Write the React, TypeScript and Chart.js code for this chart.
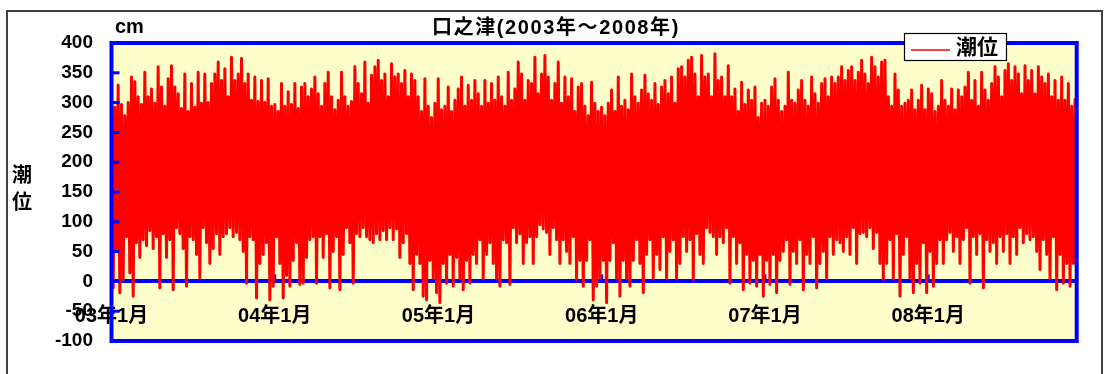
import { useEffect, useRef } from "react";
import { Chart, registerables } from "chart.js";

Chart.register(...registerables);

const chartTitle = "口之津(2003年～2008年)";
const seriesLabel = "潮位";
const yUnit = "cm";
const yTitleChars = ["潮", "位"];
const yearTickDays = [0, 365, 731, 1096, 1461, 1826];
const yearTickLabels = ["03年1月", "04年1月", "05年1月", "06年1月", "07年1月", "08年1月"];
const periodDays = 2158;
const yMin = -100;
const yMax = 400;
const yStep = 50;

// Envelope of tidal highs (cm), read left to right across the record
const highs = [
  326, 292, 329, 297, 278, 300, 343, 335, 310, 297, 351, 310, 323, 299, 360, 326, 294, 340, 362, 326,
  315, 290, 348, 285, 332, 292, 351, 299, 348, 300, 332, 348, 368, 337, 357, 310, 376, 337, 348, 374,
  332, 348, 304, 343, 302, 337, 300, 340, 294, 297, 285, 332, 294, 318, 297, 332, 290, 326,
  332, 310, 323, 343, 315, 294, 332, 351, 310, 288, 304, 351, 310, 294, 302, 360, 332, 315, 368, 299,
  346, 360, 371, 337, 348, 310, 365, 343, 348, 332, 354, 310, 348, 337, 310, 285, 340, 294, 275, 299,
  340, 288, 294, 326, 285, 304, 323, 343, 294, 329, 304, 337, 315, 294, 337, 299, 332, 304,
  343, 310, 294, 351, 304, 323, 368, 348, 304, 337, 332, 376, 315, 348, 379, 343, 304, 332, 368, 299,
  343, 310, 340, 285, 326, 332, 294, 278, 334, 299, 285, 292, 278, 299, 321, 285, 343, 294, 304, 288,
  348, 310, 299, 321, 346, 315, 304, 332, 297, 326, 337, 315, 343, 299, 357, 360, 343, 371,
  376, 348, 310, 379, 343, 348, 310, 382, 337, 343, 310, 362, 310, 323, 285, 334, 297, 321, 304, 326,
  275, 299, 304, 294, 326, 340, 304, 285, 294, 351, 304, 299, 321, 337, 304, 294, 343, 315, 299, 332,
  340, 310, 343, 332, 343, 360, 337, 354, 360, 337, 351, 371, 348, 332, 376, 360, 343, 368,
  371, 310, 294, 348, 321, 294, 299, 304, 321, 288, 304, 329, 288, 323, 315, 285, 294, 337, 304, 294,
  323, 288, 321, 310, 326, 351, 304, 337, 294, 351, 321, 304, 332, 360, 343, 310, 354, 365, 337, 360,
  348, 315, 362, 337, 354, 315, 360, 343, 332, 348, 310, 337, 304, 343, 304, 332, 294, 305,
];

// Envelope of tidal lows (cm), same sampling as highs
const lows = [
  -11, 50, -19, 3, 75, 14, -25, 65, 40, 70, 60, 85, 55, 75, -11, 80, 40, 70, -14, 90,
  80, 55, -8, 75, 70, 45, 6, 90, 65, 30, 55, 80, 45, 75, 80, 90, 75, 82, 70, 50,
  -3, 75, 70, -28, 30, 45, 65, -31, -8, 75, 30, -28, 10, -8, 35, 65, -5, -3,
  40, 70, 75, -3, 75, 40, 80, -11, 50, 75, -14, 45, 90, 65, -3, 80, 75, 90, 75, 70,
  65, 80, 70, 85, 70, 90, 70, 88, 40, 65, 80, 30, -14, 45, 30, -25, -31, 35, 5, -19,
  -36, 30, -3, 45, -8, 40, 5, -14, 35, -3, 45, 30, 70, 5, 45, 65, 30, 5,
  -8, 70, 65, -5, 90, 65, 80, 30, 65, 75, 30, 75, 95, 88, 82, 45, 90, 70, 30, 70,
  50, 30, 75, 3, 35, -8, 35, 70, -31, -8, 5, 35, -36, 35, 65, 5, -25, 35, 5, -8,
  35, 70, 30, -19, 45, 70, 5, 45, 20, 75, 5, 50, 70, 5, 30, 75, 50, 70,
  3, 80, 45, 30, 90, 82, 75, 45, 75, 65, 90, -3, 75, 30, 65, -14, 45, -3, 35, -8,
  45, -25, 35, -5, 45, -19, 35, 50, 70, -5, 50, 30, 70, -14, 45, 30, 75, -11, 30, 50,
  5, 75, 45, 70, 65, 50, 75, 45, 90, 30, 80, 82, 75, 90, 55, 82, 30, 3,
  30, 70, 5, 80, -25, 45, 75, 5, -19, 30, -3, 65, -19, 50, -8, 30, 70, 30, 70, 82,
  50, 75, 30, 70, 90, -3, 75, 45, 80, -11, 70, 50, 65, 30, 75, 50, 80, 30, 75, 45,
  90, 65, 80, 70, 75, 50, 20, 70, 45, 5, 75, -14, 45, -3, 30, -8, 30, -19,
];

const FONT = '"Liberation Sans", "Noto Sans CJK JP", sans-serif';

function buildPoints() {
  const n = Math.min(highs.length, lows.length);
  const step = periodDays / (n - 0.5);
  const pts: { x: number; y: number }[] = [];
  for (let i = 0; i < n; i++) {
    pts.push({ x: i * step, y: highs[i] });
    pts.push({ x: (i + 0.5) * step, y: lows[i] });
  }
  return pts;
}

const decorPlugin = {
  id: "decor",
  beforeDraw(chart: any) {
    const { ctx, chartArea: a } = chart;
    ctx.save();
    ctx.strokeStyle = "#404040";
    ctx.lineWidth = 2;
    ctx.strokeRect(7, 11, 1095, 420);
    ctx.fillStyle = "#FFFFCC";
    ctx.fillRect(a.left, a.top, a.right - a.left, a.bottom - a.top);
    ctx.restore();
  },
  beforeDatasetsDraw(chart: any) {
    const { ctx } = chart;
    const xs = chart.scales.x;
    const ys = chart.scales.y;
    const zeroY = ys.getPixelForValue(0);
    ctx.save();
    ctx.strokeStyle = "#0000FF";
    ctx.lineWidth = 3;
    yearTickDays.forEach((d) => {
      const px = xs.getPixelForValue(d);
      ctx.beginPath();
      ctx.moveTo(px, zeroY);
      ctx.lineTo(px, zeroY - 7);
      ctx.stroke();
    });
    ctx.restore();
  },
  afterDatasetsDraw(chart: any) {
    const { ctx, chartArea: a } = chart;
    const ys = chart.scales.y;
    ctx.save();
    ctx.strokeStyle = "#0000FF";
    ctx.lineWidth = 3;
    for (let v = yMin + yStep; v < yMax; v += yStep) {
      const py = ys.getPixelForValue(v);
      ctx.beginPath();
      ctx.moveTo(a.left, py);
      ctx.lineTo(a.left + 8, py);
      ctx.stroke();
    }
    ctx.lineWidth = 4;
    ctx.strokeRect(a.left, a.top, a.right - a.left, a.bottom - a.top);
    ctx.restore();
  },
  afterDraw(chart: any) {
    const { ctx } = chart;
    ctx.save();
    ctx.fillStyle = "#000";
    // title
    ctx.font = `bold 20px ${FONT}`;
    ctx.textAlign = "center";
    ctx.textBaseline = "middle";
    try {
      (ctx as any).letterSpacing = "1.6px";
    } catch (e) {}
    ctx.fillText(chartTitle, 556, 28);
    try {
      (ctx as any).letterSpacing = "0px";
    } catch (e) {}
    // unit
    ctx.textAlign = "left";
    ctx.textBaseline = "alphabetic";
    ctx.fillText(yUnit, 115, 33);
    // vertical axis title
    ctx.textAlign = "center";
    ctx.textBaseline = "middle";
    yTitleChars.forEach((c, i) => ctx.fillText(c, 22, 176 + i * 27));
    // legend
    ctx.fillStyle = "#FFFFFF";
    ctx.fillRect(904, 33, 103, 28);
    ctx.strokeStyle = "#000";
    ctx.lineWidth = 1.2;
    ctx.strokeRect(904.5, 33.5, 102, 27);
    ctx.strokeStyle = "#FF0000";
    ctx.lineWidth = 1.5;
    ctx.beginPath();
    ctx.moveTo(911, 50);
    ctx.lineTo(950, 50);
    ctx.stroke();
    ctx.fillStyle = "#000";
    ctx.font = `bold 21px ${FONT}`;
    ctx.textAlign = "left";
    ctx.fillText(chart.data.datasets[0].label, 956, 48.5);
    ctx.restore();
  },
};

export default function App() {
  const ref = useRef<HTMLCanvasElement>(null);
  useEffect(() => {
    if (!ref.current) return;
    const yFont = { family: FONT, size: 19, weight: "bold" as const };
    const xFont = { family: FONT, size: 20, weight: "bold" as const };
    const chart = new Chart(ref.current, {
      type: "line",
      data: {
        datasets: [
          {
            label: seriesLabel,
            data: buildPoints(),
            borderColor: "#FF0000",
            backgroundColor: "#FF0000",
            borderWidth: 3,
            borderJoinStyle: "round",
            pointRadius: 0,
            fill: false,
            tension: 0,
          },
        ],
      },
      options: {
        animation: false,
        responsive: false,
        events: [],
        layout: { padding: { left: 0, right: 34.3, top: 43, bottom: 33 } },
        plugins: {
          legend: { display: false },
          tooltip: { enabled: false },
          title: { display: false },
        },
        scales: {
          x: {
            type: "linear",
            min: 0,
            max: periodDays,
            position: { y: 0 } as any,
            grid: { display: false, drawTicks: false },
            border: { display: true, color: "#0000FF", width: 4 },
            afterBuildTicks: (s: any) => {
              s.ticks = yearTickDays.map((v) => ({ value: v }));
            },
            ticks: {
              autoSkip: false,
              maxRotation: 0,
              minRotation: 0,
              padding: 23,
              color: "#000",
              font: xFont,
              callback: (_v: any, i: number) => yearTickLabels[i],
            },
          },
          y: {
            type: "linear",
            min: yMin,
            max: yMax,
            grid: { display: false, drawTicks: false },
            border: { display: false },
            ticks: { stepSize: yStep, padding: 18.5, color: "#000", font: yFont },
            afterFit: (s: any) => {
              s.width = 111.5;
            },
          },
        },
      },
      plugins: [decorPlugin],
    });
    return () => chart.destroy();
  }, []);
  return (
    <canvas
      ref={ref}
      width={1111}
      height={374}
      style={{ position: "absolute", left: 0, top: 0 }}
    />
  );
}
